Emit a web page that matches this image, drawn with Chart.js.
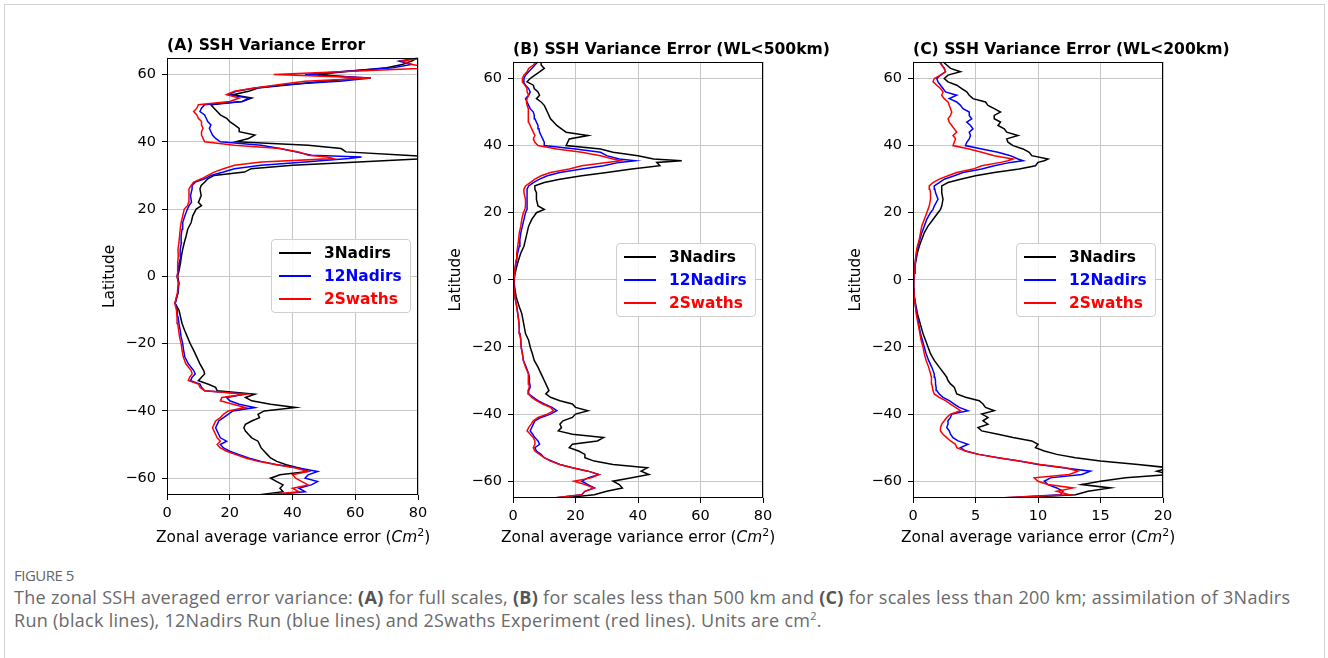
<!DOCTYPE html>
<html><head><meta charset="utf-8">
<script src="https://cdn.jsdelivr.net/npm/chart.js@4.4.1/dist/chart.umd.min.js"></script>
<style>
html,body{margin:0;padding:0;background:#fff;overflow:hidden;width:1328px;height:658px;}
#frame{position:absolute;left:4px;top:4px;width:1321px;height:720px;border:1px solid #d2d2d2;box-sizing:border-box;}
canvas{position:absolute;}
.ptitle{position:absolute;font:bold 15.6px "DejaVu Sans";line-height:19px;color:#000;white-space:nowrap;}
.xlab{position:absolute;font:15.4px "DejaVu Sans";line-height:18px;color:#000;white-space:nowrap;}
.xlab i{font-style:italic;}
.xlab sup{font-size:11px;line-height:0;}
.legend{position:absolute;background:rgba(255,255,255,0.85);border:1px solid #cfcfcf;border-radius:4px;box-sizing:border-box;padding:1px 8px 2px 7px;font:bold 15.4px "DejaVu Sans";}
.legend .row{display:flex;align-items:center;height:23px;white-space:nowrap;}
.legend .sw{display:inline-block;width:32px;height:2px;margin-right:13px;}
#figlab{position:absolute;left:14px;top:565px;font:15px "Open Sans",sans-serif;letter-spacing:-0.5px;color:#666;}
#cap{position:absolute;left:14px;top:586px;font:18px "Open Sans",sans-serif;letter-spacing:0.29px;color:#6a6a6a;line-height:23px;white-space:nowrap;}
#cap b{color:#555;}
#cap sup{font-size:11px;line-height:0;}
</style></head>
<body>
<div id="frame"></div>
<canvas id="cA" width="345" height="530"></canvas>
<canvas id="cB" width="345" height="530"></canvas>
<canvas id="cC" width="345" height="530"></canvas>
<div id="figlab">FIGURE 5</div>
<div id="cap">The zonal SSH averaged error variance: <b>(A)</b> for full scales, <b>(B)</b> for scales less than 500 km and <b>(C)</b> for scales less than 200 km; assimilation of 3Nadirs<br>Run (black lines), 12Nadirs Run (blue lines) and 2Swaths Experiment (red lines). Units are cm<sup>2</sup>.</div>
<script>
// Latitude samples (degrees)
const lat = [
 -65,-64,-63,-62,-61,-60,-59,-58,-57,-56,-55,-54,-53,-52,-51,-50,-49,-48,-47,-46,-45,-44,-43,-42,-41,-40,-39,-38,-37,-36,-35,-34,-33,-32,-31,-30,-29,-28,
 -26,-24,-22,-20,-18,-16,-14,-12,-10,-8,-5,-2,
 0,2,4,6,8,10,12,14,16,18,20,
 21,22,24,26,27,28,
 29,30,31,32,33,34,35,35.5,36,37,38,39,40,
 41,42,43,44,45,46,47,48,49,50,51,52,53,54,55,56,57,58,59,60,61,62,63,64,65];

// Panel A: full scales
const aBlack = [
 29,37,36,37,35,33,36,45,42,38,35,33,32,31,30,29.5,29,27,26,25,24.5,25,27,29.5,29,31,41,33,27,25,28,16,15.5,13,10,11,12,11.7,
 10.5,9.5,8.5,7.4,6.5,5.6,4.8,4.3,3.8,2.6,3.5,3.8,
 3.4,3.9,4.3,4.6,5,5.5,6.1,6.6,7.7,8.2,9.3,
 11,10,10.9,10.5,10.9,12,
 13,15,24.7,26.8,40,61,82,85,76,57,55.5,45,22,
 26,28,23,23,21.5,20,19,17,16,15,14,24,27,21,26,29,40,50,62,48,58,70,75,78,80];
const aBlue = [
 33,44,42,46,48,44,45,48,42,35,30,26,23,20,18,17,19,17,16.5,16,15.5,16,16.5,18,19.5,21,28,23,20,19,25,12,11,10.5,7.5,8,9,8.5,
 6.8,5.7,5.3,5,4.5,4.2,3.8,3.5,3.3,2.6,3.4,3.7,
 3.2,3.6,3.9,4.4,4.2,4.6,4.5,4.8,5,5.7,6.5,
 7,7.8,7.5,8,8,9,
 12,14,18,21.5,30,44,58,62,46,41,36,30,17,
 15.5,14.5,14,13.5,14,13,12.5,12,10.5,11,12,24,26,19.5,22,28,38,55,65,44,57,72,78,74,80];
const aRed = [
 31,42,40,45,43,41,40,45,41,35,29,25,22,19,17,16,17,16,15.5,15,14.5,15,15.5,17,18,19.5,25,21,17,17.5,25,12,10.5,10,6.8,7.2,8,7.7,
 6,5.2,4.8,4.5,4,3.7,3.4,3.2,3.0,2.5,3.3,3.6,
 3.2,3.3,3.5,3.6,3.5,3.8,4,4.2,4.5,5,5.5,
 6.5,6.9,7,7,7.7,8.5,
 11,13,15,18,21.5,30,53,51,45,42,36,21.5,12,
 11.5,11,11,11.5,11,11,10,9.5,8.5,9.5,10,20,23,19,21.5,28,36,44,65,34,59,85,78,75,82];

// Panel B: WL < 500 km
const bBlack = [
 16,26,30,35,34,32,38,43.5,41,43,32,26,23,23,21,18,19,27,29,19,14.5,15.5,15,16,19,20,24,20,19,15,12,10.5,11.5,11,10.5,10,9.5,9,
 8,6.8,6.2,5.5,5,4,3.6,3.2,2.8,2,1,0.5,
 0.3,0.7,1.2,1.8,2.5,3.5,4,4.5,5,6,7.5,
 10,8,7.5,7.5,7,7,
 10,15,22,30,38,47,46,54,45,40,32,28,17,
 17.5,18,24,17,15.5,14,13,12,11.5,11,10.5,10,9,7.5,8.5,8,6.8,6.5,4.5,5.5,7,8.5,10,9,9];
const bBlue = [
 13,22,23,26,24,22,24,27.5,24,19,15,12.5,10,9,7.5,7,8.5,8,7,6.3,5.5,6,6.5,7,9,12,14,12.5,10,8,6.5,5,5,5.5,5.4,5.3,5.2,5,
 4.2,3.3,3,2.6,2.5,2.2,2,1.8,1.5,1.2,0.6,0.3,
 0.3,0.5,0.8,1.2,1.5,2,2.2,2.5,3,3.5,4,
 4.5,4.5,4.5,4.5,4.5,5,
 6.5,8.5,11,15,22,29,34,39,34,30,28,20,10,
 10,9.5,9,8.5,8.3,8,7.5,7,6.8,6.5,5.5,5,4.5,4,5,5.5,5,4,3.3,3.5,4,5,6,7,8];
const bRed = [
 13,22,23,26,23,19.5,25,27.5,24,19,15,12,10,8.5,7,6.5,7,7,6.5,5.5,4.5,5,5.8,6.5,8,11,13,12,9.5,7.5,6,5,4.8,5.2,5.1,5,4.9,4.8,
 4,3.3,3,2.6,2.5,2.2,2,1.8,1.5,1.2,0.6,0.3,
 0.3,0.5,0.7,1,1.2,1.5,1.8,2,2.5,2.8,3.3,
 3.8,4,4,3.5,3.5,4,
 5.5,7,9,12,18,22,30,34.5,32,28,22,14,8,
 7,6.5,7,6.5,6,5.5,5,4.8,5,5,4.8,4.5,4.3,4.5,5,4.5,4.5,3.8,3,3,3.5,4.5,5,6.5,7.5];

// Panel C: WL < 200 km
const cBlack = [
 8,13,14,15.8,13.5,15,17,20.5,19.5,20.5,18,15,13,11.5,10.5,9.8,10,9.5,8,6.8,5.5,5.2,6,5.6,6,5.5,6.5,5.8,5.6,5.3,4.2,3.5,3.4,3.3,3,2.8,2.7,2.5,
 2.1,1.7,1.4,1.2,1.0,0.8,0.65,0.5,0.35,0.25,0.1,0.05,
 0.05,0.1,0.15,0.25,0.35,0.5,0.7,0.9,1.2,1.6,2,
 2.2,2.3,2.4,2.3,2.3,2.3,
 2.8,3.8,5,6.5,8.5,9.8,10,10.5,10.8,9.5,9.3,8.8,8,
 7.6,7.5,8.4,7.5,7.3,6.8,7,6.5,6.5,7,6.5,6,5.8,4.8,4.5,4.3,3.9,3.5,2.8,2.5,2.8,3.8,3,2.7,2.4];
const cBlue = [
 7,11.8,12,11.5,10.8,10.5,11,13.5,14.2,12,10,8.5,6.8,5.3,4.2,3.8,4.4,3.6,3.2,3,2.9,2.7,2.8,2.8,3,3.1,4.4,3.7,3.3,2.9,2.4,2.1,1.9,1.85,1.8,1.8,1.75,1.7,
 1.5,1.25,1.05,0.9,0.75,0.6,0.5,0.4,0.3,0.2,0.1,0.05,
 0.05,0.1,0.15,0.2,0.3,0.4,0.55,0.7,0.9,1.1,1.4,
 1.6,1.7,2,1.8,1.75,1.7,
 2.1,2.5,3.3,4,5.5,6.5,7.8,8.8,8.4,7.8,6.8,5.5,4.2,
 4.3,4.5,4.6,4.5,4.8,4.6,4.3,4.7,4.5,4.5,4,3.8,3.5,2.9,3.5,2.6,2.4,2.2,2,1.9,2.2,2.6,2.5,2.3,2.2];
const cRed = [
 6.8,12.5,11.5,12.8,10.8,10,9.7,12.5,13.2,12.2,10.2,8.5,6.8,5.2,4.2,3.5,3.4,3,2.7,2.4,2.2,2.2,2.3,2.5,2.7,3,3.8,3.4,3,2.6,2.1,1.7,1.6,1.55,1.5,1.5,1.45,1.4,
 1.25,1.05,0.9,0.8,0.65,0.55,0.45,0.35,0.25,0.2,0.1,0.05,
 0.05,0.1,0.15,0.2,0.25,0.35,0.5,0.6,0.7,0.9,1.1,
 1.2,1.3,1.4,1.4,1.35,1.3,
 1.6,2.1,2.8,3.5,4.8,5.5,7,7.6,8,6.5,5.5,4.5,3.2,
 3.3,3.4,3.2,3.5,3.3,3.1,2.9,2.8,3,3.1,3,2.9,2.8,2.5,2.3,2.4,2.2,1.9,1.6,1.7,2.2,2.6,2.5,2.3,2.1];

const yTicks = [-60,-40,-20,0,20,40,60];
const xTicksAB = [0,20,40,60,80];
const xTicksC = [0,5,10,15,20];
const seriesNames = ['3Nadirs','12Nadirs','2Swaths'];
const seriesColors = ['#000000','#0000ff','#ff0000'];
const panelTitles = ['(A) SSH Variance Error','(B) SSH Variance Error (WL<500km)','(C) SSH Variance Error (WL<200km)'];
const xLabelText = 'Zonal average variance error (';
const xLabelUnit = 'Cm';
const yLabel = 'Latitude';

const FAM = 'DejaVu Sans';
Chart.defaults.font.family = FAM;

const frameBox = {
  id: 'frameBox',
  afterDatasetsDraw(chart) {
    const a = chart.chartArea, ctx = chart.ctx;
    const l = Math.round(a.left) + 0.5, t = Math.round(a.top) + 0.5;
    const r = Math.round(a.right) - 0.5, b = Math.round(a.bottom) - 0.5;
    ctx.save();
    ctx.strokeStyle = '#000'; ctx.lineWidth = 1;
    ctx.strokeRect(l, t, r - l, b - t);
    ctx.restore();
  }
};

const panels = [
  {id:'cA', left:90,  top:28, xMax:80, xTicks:xTicksAB, series:[aBlack,aBlue,aRed], padRight:17, padTop:29.7, xH:60, titleMid:45.5},
  {id:'cB', left:436, top:28, xMax:80, xTicks:xTicksAB, series:[bBlack,bBlue,bRed], padRight:18, padTop:33.7, xH:57, titleMid:49},
  {id:'cC', left:836, top:28, xMax:20, xTicks:xTicksC,  series:[cBlack,cBlue,cRed], padRight:18, padTop:33.7, xH:57, titleMid:49}
];

const fmt = v => String(v).replace('-', '\u2212');

panels.forEach((p, pi) => {
  const cv = document.getElementById(p.id);
  cv.style.left = p.left + 'px'; cv.style.top = p.top + 'px';
  const datasets = p.series.map((vals, si) => ({
    label: seriesNames[si],
    data: vals.map((v, i) => ({x: v, y: lat[i]})),
    borderColor: seriesColors[si],
    backgroundColor: seriesColors[si],
    borderWidth: 1.5,
    pointRadius: 0,
    showLine: true,
    tension: 0,
    order: 2 - si
  }));
  const chart = new Chart(cv, {
    type: 'scatter',
    data: {datasets},
    plugins: [frameBox],
    options: {
      responsive: false, animation: false, devicePixelRatio: 1,
      layout: {padding: {top: p.padTop, left: 0, right: p.padRight, bottom: 3}},
      plugins: {legend: {display: false}, tooltip: {enabled: false}, title: {display: false}},
      scales: {
        x: {
          type: 'linear', min: 0, max: p.xMax,
          afterBuildTicks: ax => { ax.ticks = p.xTicks.map(v => ({value: v})); },
          afterFit: s => { s.height = p.xH; },
          grid: {color: '#c6c6c6', lineWidth: 1, tickColor: '#000', tickLength: 5},
          border: {display: false},
          ticks: {color: '#000', font: {family: FAM, size: 14.5}, padding: 5, maxRotation: 0, autoSkip: false, callback: fmt},
          title: {display: false}
        },
        y: {
          type: 'linear', min: -65, max: 65,
          afterBuildTicks: ax => { ax.ticks = yTicks.map(v => ({value: v})); },
          afterFit: s => { s.width = 77; },
          grid: {color: '#c6c6c6', lineWidth: 1, tickColor: '#000', tickLength: 5},
          border: {display: false},
          ticks: {color: '#000', font: {family: FAM, size: 14.5}, padding: 6, autoSkip: false, callback: fmt},
          title: {display: true, text: yLabel, color: '#000', font: {family: FAM, size: 15.4}, padding: {top: 10.5, bottom: 0}}
        }
      }
    }
  });
  const a = chart.chartArea;
  // Panel title (left-aligned on the plot area)
  const tt = document.createElement('div');
  tt.className = 'ptitle'; tt.textContent = panelTitles[pi];
  tt.style.left = (p.left + a.left) + 'px';
  tt.style.top = (p.titleMid - 9.5) + 'px';
  document.body.appendChild(tt);
  // X-axis label, centred under the plot area
  const xl = document.createElement('div');
  xl.className = 'xlab';
  xl.appendChild(document.createTextNode(xLabelText));
  const it = document.createElement('i'); it.textContent = xLabelUnit; xl.appendChild(it);
  const sp = document.createElement('sup'); sp.textContent = '2'; xl.appendChild(sp);
  xl.appendChild(document.createTextNode(')'));
  document.body.appendChild(xl);
  xl.style.left = Math.round(p.left + (a.left + a.right) / 2 - xl.offsetWidth / 2) + 'px';
  xl.style.top = '528px';
  // HTML legend, built from the chart's datasets, placed at center-right of the plot area
  const lg = document.createElement('div');
  lg.className = 'legend';
  chart.data.datasets.forEach(ds => {
    const row = document.createElement('div'); row.className = 'row';
    const sw = document.createElement('span'); sw.className = 'sw'; sw.style.background = ds.borderColor;
    const tx = document.createElement('span'); tx.textContent = ds.label; tx.style.color = ds.borderColor;
    row.appendChild(sw); row.appendChild(tx); lg.appendChild(row);
  });
  document.body.appendChild(lg);
  const w = lg.offsetWidth, h = lg.offsetHeight;
  lg.style.left = Math.round(p.left + a.right - 7.5 - w) + 'px';
  lg.style.top = Math.round(p.top + (a.top + a.bottom) / 2 - h / 2) + 'px';
});
</script>
</body></html>
